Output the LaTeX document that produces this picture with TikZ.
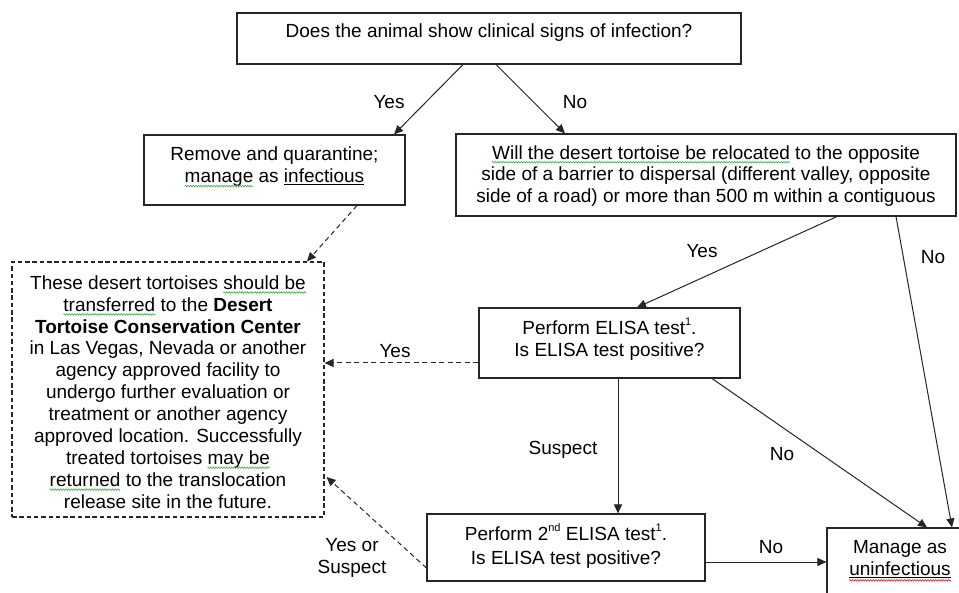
\documentclass[tikz,border=0pt]{standalone}
\usepackage{fontspec}
\setmainfont{Liberation Sans}
\usetikzlibrary{arrows.meta,decorations.pathmorphing}
\definecolor{sqgreen}{HTML}{3FAF46}
\definecolor{sqred}{HTML}{E02020}
\newlength\wavylen
\newcommand\wavy[3]{% #1 colour, #2 depth, #3 text
  \setbox0\hbox{#3}\setlength\wavylen{\wd0}%
  \leavevmode\copy0\tikz[overlay,baseline=0pt,x=1pt,y=1pt]\draw[#1,line width=0.6pt,decorate,decoration={zigzag,segment length=2.6pt,amplitude=0.8pt}] (-\wavylen,-#2) -- (0pt,-#2);}
\newcommand\gsq[1]{\wavy{sqgreen}{3.2pt}{#1}}
\newcommand\rsq[1]{\wavy{sqred}{5pt}{#1}}
\newcommand\supx[1]{\raisebox{0.5em}{\fontsize{11}{11}\selectfont #1}}
\tikzset{
  box/.style={draw=black!85, line width=1.1pt, inner sep=0pt, fill=white},
  dbox/.style={draw=black!85, line width=1.1pt, inner sep=0pt, dash pattern=on 4.5pt off 2.8pt},
  txt/.style={font=\fontsize{19}{21.9}\selectfont, align=center, inner sep=0pt, text=black},
  lbl/.style={font=\fontsize{19}{21.9}\selectfont, align=center, inner sep=0pt, text=black},
  arr/.style={draw=black!85, line width=1pt, -{Triangle[length=9pt,width=8pt]}},
  darr/.style={arr, dash pattern=on 5pt off 3.5pt}
}
\begin{document}
\begin{tikzpicture}[x=1pt,y=-1pt]
\useasboundingbox (0,0) rectangle (959,593);
\fill[white] (0,0) rectangle (959,593);
% boxes
\node[box, minimum width=504pt, minimum height=51pt] (top) at (489,38.5) {};
\node[txt] (topt) at (489,33) {Does the animal show clinical signs of infection?};

\node[box, minimum width=261pt, minimum height=70pt] (remove) at (274.5,170) {};
\node[txt] (removet) at (274.5,167) {Remove and quarantine;\\\gsq{manage} as \underline{infectious}};

\node[box, minimum width=500pt, minimum height=82pt] (will) at (706,175) {};
\node[txt] (willt) at (706,176) {\gsq{Will the desert tortoise be relocated} to the opposite\\side of a barrier to dispersal (different valley, opposite\\side of a road) or more than 500 m within a contiguous};

\node[dbox, minimum width=312pt, minimum height=255pt] (dest) at (168,389.5) {};
\node[txt] (destt) at (168,392) {These desert tortoises \gsq{should be}\\\gsq{transferred} to the \textbf{Desert}\\\textbf{Tortoise Conservation Center}\\in Las Vegas, Nevada or another\\agency approved facility to\\undergo further evaluation or\\treatment or another agency\\approved location. Successfully\\treated tortoises \gsq{may be}\\\gsq{returned} to the translocation\\release site in the future.};

\node[box, minimum width=261pt, minimum height=70pt] (elisa) at (609.5,343) {};
\node[txt] (elisat) at (609.5,339) {Perform ELISA test\supx{1}.\\Is ELISA test positive?};

\node[box, minimum width=278pt, minimum height=67pt] (second) at (566,547.5) {};
\node[txt] (secondt) at (566,546) {Perform 2\supx{nd} ELISA test\supx{1}.\\[2pt]Is ELISA test positive?};

\node[box, minimum width=146pt, minimum height=72pt] (manage) at (900,564) {};
\node[txt] (managet) at (900,559) {Manage as\\\rsq{\underline{uninfectious}}};

% connectors
\draw[arr] ([xshift=-26pt]top.south) -- ([xshift=119.5pt]remove.north);
\draw[arr] ([xshift=7pt]top.south) -- ([xshift=-141pt]will.north);
\draw[darr] ([xshift=82.5pt]remove.south) -- ([xshift=139pt]dest.north);
\draw[arr] ([xshift=131pt]will.south) -- ([xshift=27.5pt]elisa.north);
\draw[arr] ([xshift=190pt]will.south) -- ([xshift=52pt]manage.north);
\draw[darr] ([yshift=-20pt]elisa.west) -- ([yshift=26.5pt]dest.east);
\draw[arr] ([xshift=8.5pt]elisa.south) -- ([xshift=52pt]second.north);
\draw[arr] ([xshift=102.5pt]elisa.south) -- ([xshift=27pt]manage.north);
\draw[arr] ([yshift=-14.5pt]second.east) -- ([yshift=2pt]manage.west);
\draw[darr] ([yshift=-20.5pt]second.west) -- ([xshift=2pt,yshift=-87.5pt]dest.east);

% labels
\node[lbl] (l1) at (389,102) {Yes};
\node[lbl] (l2) at (575,102) {No};
\node[lbl] (l3) at (702,251) {Yes};
\node[lbl] (l4) at (933,257) {No};
\node[lbl] (l5) at (395,351) {Yes};
\node[lbl] (l6) at (563,450) {Suspect};
\node[lbl] (l7) at (782,454) {No};
\node[lbl] (l8) at (771,547) {No};
\node[lbl] (l9) at (352,558) {Yes or\\Suspect};
\end{tikzpicture}
\end{document}
